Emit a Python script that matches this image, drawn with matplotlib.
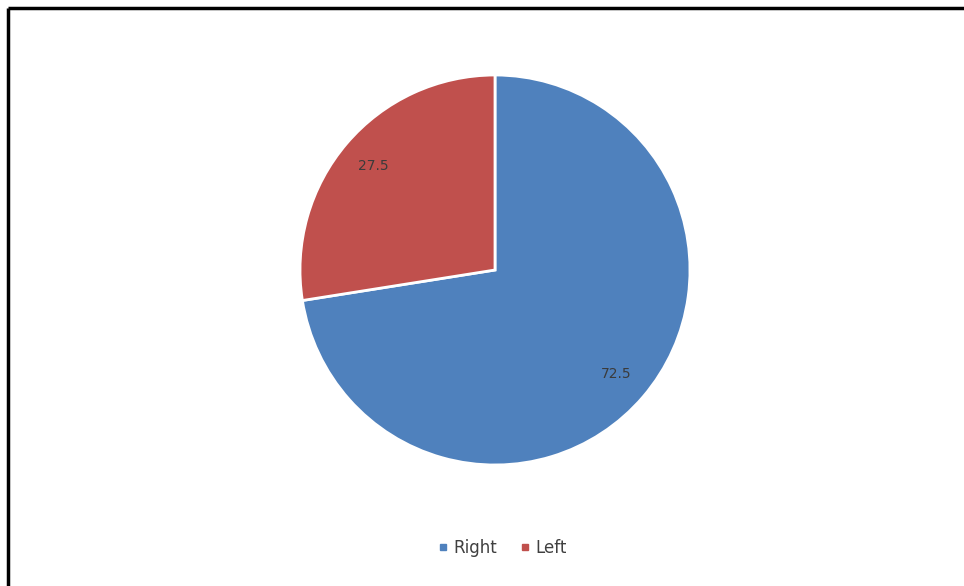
import matplotlib.pyplot as plt
from matplotlib.lines import Line2D

labels = ["Right", "Left"]
values = [72.5, 27.5]
colors = ["#4F81BD", "#C0504D"]

W, H = 964, 586
fig = plt.figure(figsize=(W/100, H/100), dpi=100)

# pie axes: center ~(495,270), radius ~195 px
cx, cy, r = 495, 270, 195
ax = fig.add_axes([(cx-r)/W, (H-cy-r)/H, 2*r/W, 2*r/H])
wedges, texts, autotexts = ax.pie(values, colors=colors, startangle=90, counterclock=False,
                                  autopct=lambda p: "{:.1f}".format(p), pctdistance=0.82,
                                  wedgeprops=dict(edgecolor="white", linewidth=2),
                                  textprops=dict(color="#3b3b3b", fontsize=10))
ax.set_xlim(-1, 1)
ax.set_ylim(-1, 1)
ax.set_aspect("auto")
ax.axis("off")

handles = [Line2D([], [], marker="s", linestyle="", markersize=5, color=c) for c in colors]
fig.legend(handles, labels, loc="center", bbox_to_anchor=(502/W, 1-548/H), ncol=2,
           frameon=False, fontsize=12, handlelength=0.7, handletextpad=0.3,
           columnspacing=1.3, labelcolor="#404040")

# frame lines (top and left only, as in the screenshot)
fig.add_artist(Line2D([8/W, 1], [1-8/H, 1-8/H], color="black", linewidth=2.5,
                      solid_capstyle="butt", transform=fig.transFigure))
fig.add_artist(Line2D([8/W, 8/W], [0, 1-8/H], color="black", linewidth=2.5,
                      solid_capstyle="butt", transform=fig.transFigure))

fig.savefig("out.png", dpi=100, facecolor="white")
